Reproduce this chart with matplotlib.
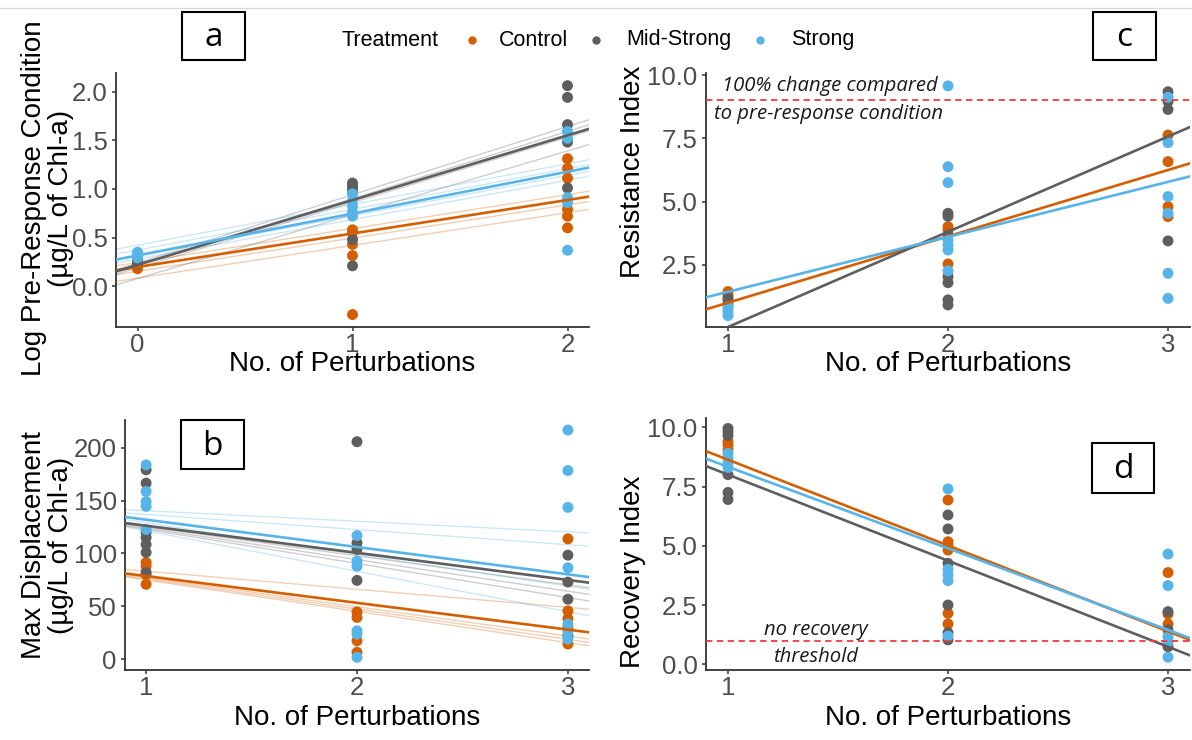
import numpy as np
import matplotlib
matplotlib.use("Agg")
import matplotlib.pyplot as plt
from matplotlib.patches import Rectangle
from matplotlib.lines import Line2D

plt.rcParams['font.family'] = ['Liberation Sans', 'DejaVu Sans']

W, H = 1192, 740
treatments = ["Control", "Mid-Strong", "Strong"]
colors = {"Control": "#D55E00", "Mid-Strong": "#5E5E5E", "Strong": "#56B4E9"}

# ---------------- Panel a: log pre-response condition ----------------
a_control = {0: [0.22, 0.20, 0.18], 1: [0.58, 0.55, 0.43, 0.315, -0.29],
             2: [1.31, 1.21, 1.11, 0.79, 0.72, 0.60]}
a_midstrong = {0: [0.28, 0.25, 0.23], 1: [1.06, 1.03, 1.00, 0.96, 0.48, 0.21],
               2: [2.06, 1.94, 1.66, 1.48, 1.01]}
a_strong = {0: [0.35, 0.33, 0.31, 0.29], 1: [0.95, 0.88, 0.82, 0.76, 0.72],
            2: [1.59, 1.52, 0.91, 0.86, 0.37]}
a_fit = {"Control": (0.198, 0.344), "Mid-Strong": (0.22, 0.665), "Strong": (0.317, 0.4295)}
a_thin = {"Control": [(0.245, 0.348), (0.154, 0.341), (0.084, 0.336)],
          "Mid-Strong": [(0.24, 0.70), (0.21, 0.69), (0.19, 0.67), (0.08, 0.655)],
          "Strong": [(0.422, 0.418), (0.372, 0.418), (0.311, 0.414), (0.28, 0.405)]}

# ---------------- Panel b: max displacement ----------------
b_control = {1: [91.5, 88.0, 80.0, 70.9], 2: [44.8, 39.6, 17.6, 6.7],
             3: [113.8, 45.8, 38.6, 30.2, 14.5]}
b_midstrong = {1: [179.0, 166.4, 119.7, 115.0, 108.5, 101.0, 82.0],
               2: [205.5, 110.0, 103.8, 74.6], 3: [98.4, 73.0, 56.8, 22.3]}
b_strong = {1: [183.6, 158.6, 149.0, 144.5, 122.6], 2: [116.9, 92.8, 88.0, 27.0, 23.9, 2.0],
            3: [216.5, 178.3, 143.5, 86.5, 33.3, 25.5, 19.2]}
b_fit = {"Control": (104.0, -25.3), "Mid-Strong": (151.8, -25.6), "Strong": (157.7, -25.8)}
b_thin = {"Control": [(100.4, -17.1), (104.9, -27.6), (104.7, -28.6), (104.6, -29.6)],
          "Mid-Strong": [(152.6, -27.4), (153.8, -29.8), (155.0, -32.2)],
          "Strong": [(150.4, -10.0), (151.1, -14.27), (159.6, -38.2), (158.9, -29.9)]}

# ---------------- Panel c: resistance index ----------------
c_control = {1: [1.45, 1.3], 2: [4.01, 3.88, 2.54], 3: [7.63, 6.58, 4.80, 4.41]}
c_midstrong = {1: [1.2, 1.1, 0.95], 2: [4.54, 4.42, 3.68, 2.04, 1.80, 1.12, 0.92],
               3: [9.34, 8.95, 8.64, 3.45]}
c_strong = {1: [0.85, 0.75, 0.62, 0.5], 2: [9.57, 6.38, 5.75, 3.48, 3.30, 3.09, 2.27],
            3: [9.12, 7.33, 5.20, 4.54, 2.17, 1.18]}
c_fit = {"Control": (-1.61, 2.62), "Mid-Strong": (-3.71, 3.76), "Strong": (-0.73, 2.17)}
c_threshold = 9.0

# ---------------- Panel d: recovery index ----------------
d_control = {1: [9.40, 9.25, 9.05], 2: [6.93, 5.17, 5.03, 4.82, 2.15, 1.70],
             3: [3.87, 2.12, 1.70]}
d_midstrong = {1: [9.95, 9.80, 9.65, 8.0, 7.25, 6.95], 2: [6.30, 5.71, 4.26, 2.50, 1.33, 1.03],
               3: [2.22, 1.45, 0.74]}
d_strong = {1: [8.9, 8.7, 8.5, 8.3], 2: [7.40, 4.01, 3.77, 3.53, 1.19],
            3: [4.65, 3.32, 1.16, 0.95, 0.30]}
d_fit = {"Control": (12.25, -3.62), "Mid-Strong": (11.63, -3.63), "Strong": (11.77, -3.44)}
d_threshold = 1.0

x_ticks_a = [0, 1, 2]
x_ticks_bcd = [1, 2, 3]
y_ticks_a = [0.0, 0.5, 1.0, 1.5, 2.0]
y_ticks_b = [0, 50, 100, 150, 200]
y_ticks_cd = [2.5, 5.0, 7.5, 10.0]
y_ticks_d = [0.0, 2.5, 5.0, 7.5, 10.0]

fig = plt.figure(figsize=(W / 100, H / 100), dpi=100)


def rect(l, t, r, b):
    return [l / W, 1 - b / H, (r - l) / W, (b - t) / H]


def style(ax, xticks, yticks, yfmt):
    for s in ["top", "right"]:
        ax.spines[s].set_visible(False)
    for s in ["left", "bottom"]:
        ax.spines[s].set_linewidth(1.3)
        ax.spines[s].set_color("#333333")
    ax.set_xticks(xticks)
    ax.set_yticks(yticks)
    ax.set_yticklabels([yfmt.format(v) for v in yticks])
    ax.tick_params(axis="both", length=3, width=1.1, color="#333333",
                   labelsize=18.5, labelcolor="#4D4D4D", pad=1.0)
    ax.tick_params(axis="y", pad=3)


def draw_points(ax, groups):
    for name, g in zip(treatments, groups):
        xs, ys = [], []
        for x, vals in g.items():
            xs += [x] * len(vals)
            ys += vals
        ax.scatter(xs, ys, s=62, color=colors[name], edgecolors="none", zorder=3)


def draw_lines(ax, fit, thin, xlim):
    xx = np.array(xlim)
    if thin:
        for name in treatments:
            for i0, s in thin[name]:
                ax.plot(xx, i0 + s * xx, color=colors[name], lw=1.0, alpha=0.3, zorder=2)
    for name in treatments:
        i0, s = fit[name]
        ax.plot(xx, i0 + s * xx, color=colors[name], lw=1.9, zorder=4)


note_font = ["Open Sans", "DejaVu Sans"]

# Panel a
ax_a = fig.add_axes(rect(116, 73, 589, 327))
xl = (-0.1, 2.1)
draw_points(ax_a, [a_control, a_midstrong, a_strong])
draw_lines(ax_a, a_fit, a_thin, xl)
ax_a.set_xlim(*xl)
ax_a.set_ylim(-0.418, 2.19)
style(ax_a, x_ticks_a, y_ticks_a, "{:.1f}")

# Panel b
ax_b = fig.add_axes(rect(125, 420, 589, 670))
xl = (0.9, 3.1)
draw_points(ax_b, [b_control, b_midstrong, b_strong])
draw_lines(ax_b, b_fit, b_thin, xl)
ax_b.set_xlim(*xl)
ax_b.set_ylim(-10, 226)
style(ax_b, x_ticks_bcd, y_ticks_b, "{:.0f}")

# Panel c
ax_c = fig.add_axes(rect(706, 73, 1190, 327))
draw_points(ax_c, [c_control, c_midstrong, c_strong])
draw_lines(ax_c, c_fit, None, xl)
ax_c.axhline(c_threshold, color="#F23A3A", lw=1.3, ls=(0, (3.5, 2.5)), zorder=5)
ax_c.set_xlim(*xl)
ax_c.set_ylim(0.05, 10.08)
style(ax_c, x_ticks_bcd, y_ticks_cd, "{:.1f}")
ax_c.text(1.465, 9.55, "100% change compared", fontsize=14.6, style="italic",
          family=note_font, color="#1a1a1a", ha="center", va="center", zorder=6)
ax_c.text(1.455, 8.47, "to pre-response condition", fontsize=14.6, style="italic",
          family=note_font, color="#1a1a1a", ha="center", va="center", zorder=6)

# Panel d
ax_d = fig.add_axes(rect(706, 418, 1190, 670))
draw_points(ax_d, [d_control, d_midstrong, d_strong])
draw_lines(ax_d, d_fit, None, xl)
ax_d.axhline(d_threshold, color="#F23A3A", lw=1.3, ls=(0, (3.5, 2.5)), zorder=5)
ax_d.set_xlim(*xl)
ax_d.set_ylim(-0.24, 10.39)
style(ax_d, x_ticks_bcd, y_ticks_d, "{:.1f}")
ax_d.text(1.40, 1.45, "no recovery", fontsize=14.6, style="italic",
          family=note_font, color="#1a1a1a", ha="center", va="center", zorder=6)
ax_d.text(1.40, 0.32, "threshold", fontsize=14.6, style="italic",
          family=note_font, color="#1a1a1a", ha="center", va="center", zorder=6)

# Axis titles
title_fs = 20
for cx, cy in [(352, 364), (948, 364), (357, 718), (948, 718)]:
    fig.text(cx / W, 1 - cy / H, "No. of Perturbations", fontsize=title_fs,
             ha="center", va="center")
fig.text(48 / W, 1 - 198 / H, "Log Pre-Response Condition\n(µg/L of Chl-a)", fontsize=title_fs,
         rotation=90, ha="center", va="center", multialignment="center", linespacing=1.05)
fig.text(48 / W, 1 - 545 / H, "Max Displacement\n(µg/L of Chl-a)", fontsize=title_fs,
         rotation=90, ha="center", va="center", multialignment="center", linespacing=1.05)
fig.text(633 / W, 1 - 172 / H, "Resistance Index", fontsize=title_fs,
         rotation=90, ha="center", va="center")
fig.text(633 / W, 1 - 572 / H, "Recovery Index", fontsize=title_fs,
         rotation=90, ha="center", va="center")

# Legend
leg_y = 1 - 40 / H
fig.text(342 / W, leg_y, "Treatment", fontsize=15.5, ha="left", va="center")
for name, dx, tx in zip(treatments, [472, 596, 760], [499, 626, 791]):
    fig.add_artist(Line2D([dx / W], [leg_y], marker="o", markersize=6, color=colors[name],
                          markeredgewidth=0, linestyle="none"))
    fig.text(tx / W, leg_y, name, fontsize=15.5, ha="left", va="center")

# Panel letter boxes
for letter, (l, t, r, b) in zip("abcd", [(182, 12, 245, 60), (181, 420, 244, 469),
                                         (1093, 12, 1156, 60), (1092, 443, 1154, 493)]):
    fig.add_artist(Rectangle((l / W, 1 - b / H), (r - l) / W, (b - t) / H,
                             transform=fig.transFigure, fill=True, facecolor="white",
                             edgecolor="black", lw=1.5, zorder=10))
    fig.text((l + r) / 2 / W, 1 - ((t + b) / 2 + 2) / H, letter, fontsize=24,
             ha="center", va="center", zorder=11, family=note_font)

# top border line of the original screenshot
fig.add_artist(Line2D([0, 1], [1 - 8 / H, 1 - 8 / H], color="#D9D9D9", lw=1.0))

fig.savefig("out.png", dpi=100)
